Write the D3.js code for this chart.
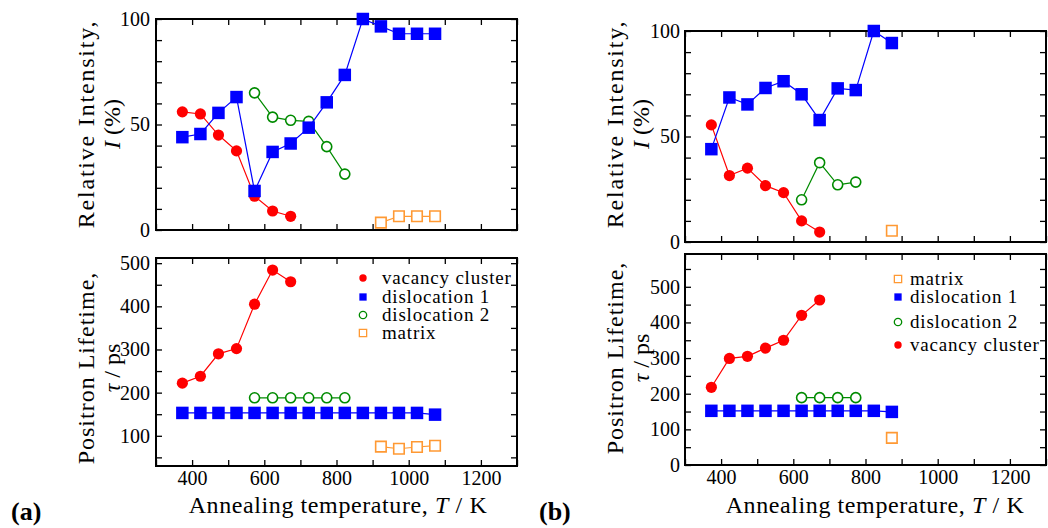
<!doctype html>
<html>
<head>
    <meta charset="utf-8" />
    <title></title>
    <style>
        body { margin : 0; background : #fff; }
        svg text { font-family : "Liberation Serif", "DejaVu Serif", serif; fill : #000; }
        .frame { fill : none; stroke : #000; stroke-width : 2; }
        .axis path { display : none; }
        .axis line { stroke : #000; stroke-width : 1.3; }
        .axis text { font-size : 20px; }
        .title { font-size : 24px; }
        .legend text { font-size : 19px; letter-spacing : 0.8px; }
    </style>
</head>
<body>
    <div id="chart"></div>

    <script src="https://cdnjs.cloudflare.com/ajax/libs/d3/7.8.5/d3.min.js"></script>
    <script>
        // annealing temperatures (K)
        var tempsA = [373, 423, 473, 523, 573, 623, 673, 723, 773, 823, 873, 923, 973, 1023, 1073];
        var tempsB = [373, 423, 473, 523, 573, 623, 673, 723, 773, 823, 873];

        // panel (a): relative intensity (%)
        var vacA_I  = [56, 55, 45, 37.5, 16, 9, 6.5];                                        // 373-673
        var dis1A_I = [44, 45.5, 55.5, 63, 18.5, 37, 41, 48.5, 60.5, 73.5, 100, 96.5, 93, 93, 93];
        var dis2A_I = [65, 53.5, 52, 51.5, 39.5, 26.5];                                     // 573-823
        var matA_I  = [3.5, 6.5, 6.5, 6.5];                                                 // 923-1073

        // panel (a): positron lifetime (ps)
        var vacA_tau  = [222, 238, 290, 302, 405, 484, 457];
        var dis1A_tau = [153, 153, 153, 153, 153, 153, 153, 153, 153, 153, 153, 153, 153, 153, 149];
        var dis2A_tau = [188, 188, 188, 188, 188, 188];
        var matA_tau  = [75, 70, 74, 77];

        // panel (b): relative intensity (%)
        var vacB_I  = [55.5, 31.5, 35, 26.7, 23.4, 10, 4.7];                                // 373-673
        var dis1B_I = [44, 68.5, 65.2, 73, 76.2, 70, 57.8, 72.8, 72, 100, 94.3];           // 373-873
        var dis2B_I = [20, 37.6, 27.1, 28.4];                                              // 623-773
        var matB_I  = [5.3];                                                               // 873

        // panel (b): positron lifetime (ps)
        var vacB_tau  = [218, 299, 305, 328, 350, 420, 463];
        var dis1B_tau = [152, 152, 152, 152, 152, 152, 152, 152, 152, 152, 149];
        var dis2B_tau = [189, 189, 189, 189];
        var matB_tau  = [76];

        var xTicks = [300, 400, 500, 600, 700, 800, 900, 1000, 1100, 1200, 1300];
        var iTicks = [0, 10, 20, 30, 40, 50, 60, 70, 80, 90, 100];
        var iLabels = [0, 50, 100];
        var tauTicksA = [50, 100, 150, 200, 250, 300, 350, 400, 450, 500];
        var tauTicksB = [0, 50, 100, 150, 200, 250, 300, 350, 400, 450, 500, 550];
        var tauLabelsA = [100, 200, 300, 400, 500];
        var tauLabelsB = [0, 100, 200, 300, 400, 500];

        var red = "#ff0000", blue = "#0000ff", green = "#008b00", orange = "#ff9933";

        var styles = {
            vac : { color : red, shape : d3.symbolCircle, size : Math.PI * 5.6 * 5.6, fill : true, name : "vacancy cluster" },
            dis1 : { color : blue, shape : d3.symbolSquare, size : 12.5 * 12.5, fill : true, name : "dislocation 1" },
            dis2 : { color : green, shape : d3.symbolCircle, size : Math.PI * 5 * 5, fill : false, name : "dislocation 2" },
            mat : { color : orange, shape : d3.symbolSquare, size : 10.5 * 10.5, fill : false, name : "matrix" }
        };

        function series(key, temps, start, values) {
            return { style : styles[key], data : values.map(function(v, i) { return [temps[start + i], v]; }) };
        }

        var w = 1048, h = 528;

        var svg = d3.select("#chart").append("svg").attr("width", w).attr("height", h);

        function drawPlot(o) {
            var g = svg.append("g");
            var x = d3.scaleLinear().domain([300, 1300]).range([o.x0, o.x1]);
            var y = d3.scaleLinear().domain(o.yDomain).range([o.y1, o.y0]);

            g.append("g").attr("class", "axis").attr("transform", "translate(0," + o.y1 + ")")
                .call(d3.axisBottom(x).tickValues(xTicks).tickSize(-6).tickPadding(5)
                    .tickFormat(function(d) { return o.xLabels && d % 200 === 0 ? d : ""; }));
            g.append("g").attr("class", "axis").attr("transform", "translate(0," + o.y0 + ")")
                .call(d3.axisTop(x).tickValues(xTicks).tickSize(-6).tickFormat(""));
            g.append("g").attr("class", "axis").attr("transform", "translate(" + o.x0 + ",0)")
                .call(d3.axisLeft(y).tickValues(o.yTicks).tickSize(-6).tickPadding(o.pad)
                    .tickFormat(function(d) { return o.yLabels.indexOf(d) >= 0 ? d : ""; }));
            g.append("g").attr("class", "axis").attr("transform", "translate(" + o.x1 + ",0)")
                .call(d3.axisRight(y).tickValues(o.yTicks).tickSize(-6).tickFormat(""));
            g.selectAll(".axis").attr("font-family", null).attr("font-size", null);

            g.append("rect").attr("class", "frame")
                .attr("x", o.x0).attr("y", o.y0)
                .attr("width", o.x1 - o.x0).attr("height", o.y1 - o.y0);

            var line = d3.line().x(function(d) { return x(d[0]); }).y(function(d) { return y(d[1]); });

            o.series.forEach(function(s) {
                g.append("path").datum(s.data).attr("d", line)
                    .attr("fill", "none").attr("stroke", s.style.color).attr("stroke-width", 1.2);
                g.selectAll(null).data(s.data).enter().append("path")
                    .attr("transform", function(d) { return "translate(" + x(d[0]) + "," + y(d[1]) + ")"; })
                    .attr("d", d3.symbol().type(s.style.shape).size(s.style.size))
                    .attr("fill", s.style.fill ? s.style.color : "#fff")
                    .attr("stroke", s.style.color)
                    .attr("stroke-width", s.style.fill ? 0 : 1.6);
            });

            // rotated y title, two lines
            var t = g.append("g").attr("class", "title")
                .attr("transform", "translate(0," + o.yTitleY + ") rotate(-90)");
            t.append("text").attr("x", 0).attr("y", o.x0 - 62).attr("text-anchor", "middle")
                .style("letter-spacing", o.ls + "px").text(o.yTitle1);
            var t2 = t.append("text").attr("x", 0).attr("y", o.x0 - 36).attr("text-anchor", "middle");
            t2.append("tspan").style("font-style", "italic").text(o.yTitle2[0]);
            t2.append("tspan").text(o.yTitle2[1]);

            if (o.legend) {
                var lg = g.append("g").attr("class", "legend");
                o.legend.keys.forEach(function(k, i) {
                    var st = styles[k], yy = o.legend.rows[i];
                    var small = st.shape === d3.symbolSquare ? 7.3 * 7.3 : Math.PI * 3.7 * 3.7;
                    lg.append("path")
                        .attr("transform", "translate(" + o.legend.sx + "," + yy + ")")
                        .attr("d", d3.symbol().type(st.shape).size(small))
                        .attr("fill", st.fill ? st.color : "#fff")
                        .attr("stroke", st.color).attr("stroke-width", st.fill ? 0 : 1.3);
                    lg.append("text").attr("x", o.legend.tx).attr("y", yy + 6).text(st.name);
                });
            }
            return g;
        }

        function xTitle(cx) {
            var t = svg.append("text").attr("class", "title").attr("x", cx).attr("y", 513)
                .attr("text-anchor", "middle").style("letter-spacing", "0.6px");
            t.append("tspan").text("Annealing temperature, ");
            t.append("tspan").style("font-style", "italic").text("T");
            t.append("tspan").text(" / K");
        }

        // ---- panel (a)
        drawPlot({
            x0 : 156, x1 : 517, y0 : 19, y1 : 230, yDomain : [0, 100],
            yTicks : iTicks, yLabels : iLabels, pad : 6, xLabels : false,
            yTitleY : 124, yTitle1 : "Relative Intensity,", yTitle2 : ["I", " (%)"], ls : 1.8,
            series : [series("vac", tempsA, 0, vacA_I), series("dis2", tempsA, 4, dis2A_I),
                      series("dis1", tempsA, 0, dis1A_I), series("mat", tempsA, 11, matA_I)]
        });
        drawPlot({
            x0 : 156, x1 : 517, y0 : 258, y1 : 466, yDomain : [30, 512],
            yTicks : tauTicksA, yLabels : tauLabelsA, pad : 6, xLabels : true,
            yTitleY : 368, yTitle1 : "Positron Lifetime,", yTitle2 : ["\u03c4", " / ps"], ls : 1,
            series : [series("vac", tempsA, 0, vacA_tau), series("dis2", tempsA, 4, dis2A_tau),
                      series("dis1", tempsA, 0, dis1A_tau), series("mat", tempsA, 11, matA_tau)],
            legend : { keys : ["vac", "dis1", "dis2", "mat"], rows : [278, 297, 315, 333], sx : 363, tx : 382 }
        });
        xTitle(338);

        // ---- panel (b)
        drawPlot({
            x0 : 685, x1 : 1046, y0 : 31, y1 : 242, yDomain : [0, 100],
            yTicks : iTicks, yLabels : iLabels, pad : 5, xLabels : false,
            yTitleY : 124, yTitle1 : "Relative Intensity,", yTitle2 : ["I", " (%)"], ls : 1.8,
            series : [series("vac", tempsB, 0, vacB_I), series("dis2", tempsB, 5, dis2B_I),
                      series("dis1", tempsB, 0, dis1B_I), series("mat", tempsB, 10, matB_I)]
        });
        drawPlot({
            x0 : 685, x1 : 1046, y0 : 254, y1 : 465, yDomain : [0, 592],
            yTicks : tauTicksB, yLabels : tauLabelsB, pad : 5, xLabels : true,
            yTitleY : 358, yTitle1 : "Positron Lifetime,", yTitle2 : ["\u03c4", " / ps"], ls : 1,
            series : [series("vac", tempsB, 0, vacB_tau), series("dis2", tempsB, 5, dis2B_tau),
                      series("dis1", tempsB, 0, dis1B_tau), series("mat", tempsB, 10, matB_tau)],
            legend : { keys : ["mat", "dis1", "dis2", "vac"], rows : [279, 297, 322, 345], sx : 898, tx : 910 }
        });
        xTitle(875);

        svg.append("text").attr("x", 11).attr("y", 520).style("font-size", "26px").style("font-weight", "bold").text("(a)");
        svg.append("text").attr("x", 539).attr("y", 520).style("font-size", "26px").style("font-weight", "bold").text("(b)");
    </script>
</body>
</html>
